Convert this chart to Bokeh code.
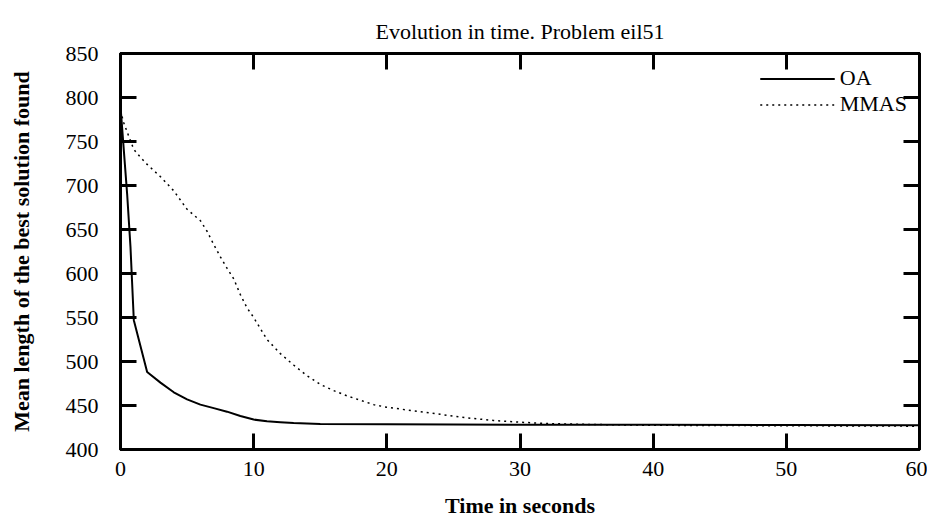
from bokeh.plotting import figure
from bokeh.models import Range1d, LinearAxis, FixedTicker, CustomJSTickFormatter, Legend, LegendItem
from bokeh.embed import file_html
from bokeh.resources import INLINE

# ---- data ----
oa_time = [0, 0.25, 0.5, 0.75, 1, 2, 3, 4, 5, 6, 7, 8, 9, 10, 11, 12, 13, 14, 15,
           20, 25, 30, 40, 50, 60]
oa_length = [790, 740, 690, 630, 547, 488, 476, 465, 457, 451, 447, 443, 438, 434,
             432, 431, 430, 429.5, 429, 428.8, 428.5, 428.2, 428, 427.8, 427.5]

mmas_time = [0, 0.25, 0.62, 1, 1.5, 2, 3, 4, 5, 6, 6.5, 7, 7.5, 8, 8.5, 9, 9.5, 10,
             11, 12, 13, 14, 15, 16, 17, 18, 19, 20, 21, 22, 24, 26, 28, 30, 32, 35,
             40, 50, 60]
mmas_length = [785, 771, 756, 741, 732, 724, 710, 694, 673, 660, 648, 633, 619, 606,
               594, 576, 561, 550, 525, 509, 496, 484, 474, 467, 461, 456, 451, 448,
               446, 444, 440, 436, 433, 431, 429.5, 428.5, 427.5, 427, 426.5]

x_ticks = [0, 10, 20, 30, 40, 50, 60]
y_ticks = [400, 450, 500, 550, 600, 650, 700, 750, 800, 850]

title_text = "Evolution in time. Problem eil51"
x_title = "Time in seconds"
y_title = "Mean length of the best solution found"
series_names = ["OA", "MMAS"]

FONT = "Liberation Serif"
FS = "22px"

p = figure(frame_width=799, frame_height=396,
           x_range=Range1d(x_ticks[0], x_ticks[-1]),
           y_range=Range1d(y_ticks[0], y_ticks[-1]),
           output_backend="svg", toolbar_location=None,
           min_border_left=120, min_border_top=53, min_border_right=8,
           min_border_bottom=70, background_fill_color="white",
           border_fill_color="white")

p.xgrid.visible = False
p.ygrid.visible = False
p.outline_line_color = "black"
p.outline_line_width = 3
p.outline_line_alpha = 1.0

p.title.text = title_text
p.title.text_font = FONT
p.title.text_font_size = FS
p.title.text_font_style = "normal"
p.title.text_color = "black"
p.title.align = "center"
p.title.vertical_align = "top"
p.title.standoff = 16

def style_axis(ax, ticks, labels=True):
    ax.ticker = FixedTicker(ticks=ticks)
    ax.minor_tick_line_color = None
    ax.major_tick_in = 16
    ax.major_tick_out = 0
    ax.major_tick_line_width = 3
    ax.major_tick_line_color = "black"
    ax.axis_line_width = 3
    ax.axis_line_color = "black"
    ax.major_label_text_font = FONT
    ax.major_label_text_font_size = FS
    ax.major_label_text_color = "black"
    if not labels:
        ax.formatter = CustomJSTickFormatter(code="return ''")
        ax.major_label_standoff = 0
        ax.major_label_text_font_size = "0px"

xa = p.xaxis[0]
ya = p.yaxis[0]
style_axis(xa, x_ticks)
style_axis(ya, y_ticks)
xa.major_label_standoff = 12
ya.major_label_standoff = 22
xa.axis_label = x_title
ya.axis_label = y_title
for ax in (xa, ya):
    ax.axis_label_text_font = FONT
    ax.axis_label_text_font_size = FS
    ax.axis_label_text_font_style = "bold"
    ax.axis_label_text_color = "black"
xa.axis_label_standoff = 14
ya.axis_label_standoff = 29

top_ax = LinearAxis()
right_ax = LinearAxis()
style_axis(top_ax, x_ticks, labels=False)
style_axis(right_ax, y_ticks, labels=False)
p.add_layout(top_ax, "above")
p.add_layout(right_ax, "right")

r_oa = p.line(oa_time, oa_length, line_color="black", line_width=2)
r_mmas = p.line(mmas_time, mmas_length, line_color="black", line_width=1.5,
                line_dash="2 4")

legend = Legend(items=[LegendItem(label=series_names[0], renderers=[r_oa]),
                       LegendItem(label=series_names[1], renderers=[r_mmas])],
                location="top_right")
legend.label_text_font = FONT
legend.label_text_font_size = FS
legend.label_text_color = "black"
legend.glyph_width = 75
legend.label_height = 23
legend.glyph_height = 23
legend.spacing = 0
legend.padding = 8
legend.margin = 12
legend.border_line_color = None
legend.background_fill_alpha = 0
p.add_layout(legend)

open("out.html", "w").write(file_html(p, INLINE))
